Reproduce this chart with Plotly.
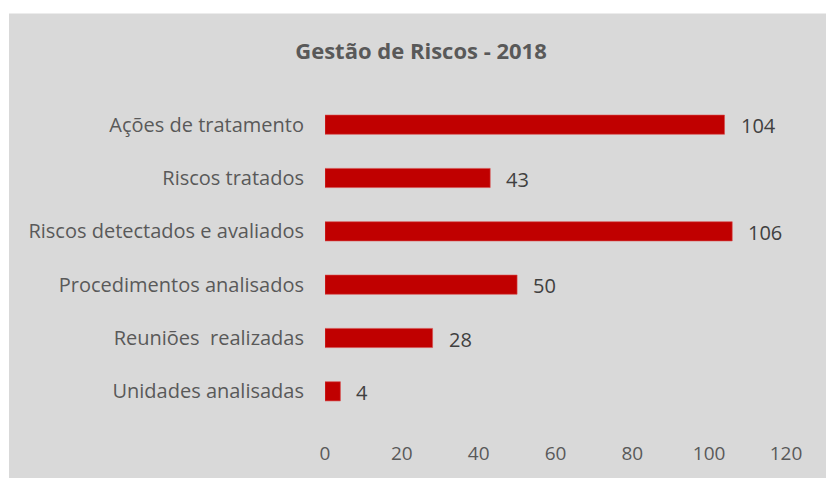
import plotly.graph_objects as go

# Risk management figures for 2018, listed top to bottom as shown
categorias = [
    "Ações de tratamento",
    "Riscos tratados",
    "Riscos detectados e avaliados",
    "Procedimentos analisados",
    "Reuniões\u00a0 realizadas",
    "Unidades analisadas",
]
valores = [104, 43, 106, 50, 28, 4]
x_ticks = [0, 20, 40, 60, 80, 100, 120]

FONT = "Open Sans, Noto Sans, sans-serif"
TEXT_GRAY = "#595959"
BAR_RED = "#c00000"
PANEL_GRAY = "#d9d9d9"

W, H = 826, 478
L, R, T, B = 325, 40, 98, 54

fig = go.Figure(
    go.Bar(
        x=valores,
        y=categorias,
        orientation="h",
        marker=dict(color=BAR_RED, line=dict(color="#d94a4a", width=0.6)),
        width=0.36,
        hoverinfo="x+y",
    )
)

# value labels to the right of each bar
for cat, val in zip(categorias, valores):
    fig.add_annotation(
        x=val, y=cat, text=str(val), showarrow=False,
        xanchor="left", yanchor="middle", xshift=14, yshift=-1,
        font=dict(family=FONT, size=20, color="#404040"),
    )

# white page margin above and to the left of the grey chart panel
fig.add_shape(type="rect", xref="paper", yref="paper", layer="below",
              x0=-L / (W - L - R) - 0.1, x1=(W - L) / (W - L - R) + 0.1,
              y0=(H - B - 12) / (H - T - B), y1=(H - B) / (H - T - B) + 0.1,
              fillcolor="white", line=dict(width=0))
fig.add_shape(type="rect", xref="paper", yref="paper", layer="below",
              x0=-L / (W - L - R) - 0.1, x1=(9 - L) / (W - L - R),
              y0=-B / (H - T - B) - 0.1, y1=(H - B) / (H - T - B) + 0.1,
              fillcolor="white", line=dict(width=0))

fig.update_layout(
    width=W, height=H,
    margin=dict(l=L, r=R, t=T, b=B),
    paper_bgcolor=PANEL_GRAY,
    plot_bgcolor="rgba(0,0,0,0)",
    showlegend=False,
    title=dict(
        text="<b>Gestão de Riscos - 2018</b>",
        x=421 / W, xanchor="center", xref="container",
        y=1 - 51 / H, yanchor="middle", yref="container",
        font=dict(family=FONT, size=22, color=TEXT_GRAY),
    ),
    xaxis=dict(
        range=[0, 120], tickvals=x_ticks, showgrid=False, zeroline=False,
        showline=False, ticks="", ticklabelstandoff=22,
        tickfont=dict(family=FONT, size=19, color=TEXT_GRAY),
    ),
    yaxis=dict(
        autorange="reversed", showgrid=False, zeroline=False, showline=False,
        ticks="", ticklabelstandoff=20,
        tickfont=dict(family=FONT, size=20, color=TEXT_GRAY),
    ),
)

fig.write_html("out.html")
